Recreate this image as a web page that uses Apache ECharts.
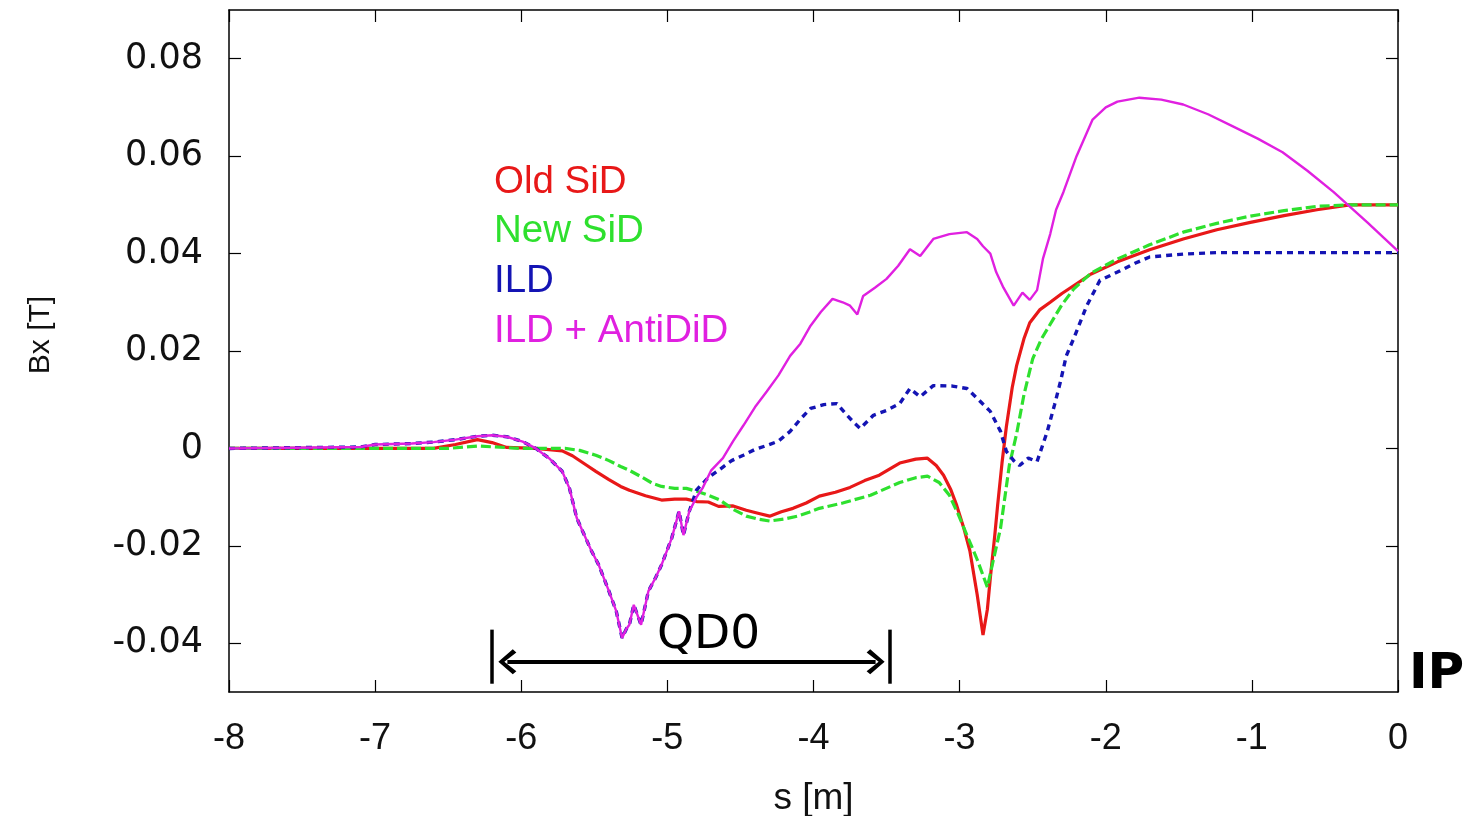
<!DOCTYPE html>
<html>
<head>
<meta charset="utf-8">
<title>Bx along s</title>
<script src="https://cdn.jsdelivr.net/npm/echarts@6/dist/echarts.min.js"></script>
<style>
  html, body { margin: 0; padding: 0; background: #ffffff; }
  #chart { width: 1470px; height: 816px; }
</style>
</head>
<body>
<div id="chart"></div>
<script>
// Tick values of the Bx axis and the s axis range
const bxTicks = [-0.04, -0.02, 0, 0.02, 0.04, 0.06, 0.08];
const sTicks = [-8, -7, -6, -5, -4, -3, -2, -1, 0];

// Old SiD field, [s (m), Bx (T)]
const oldSid = [
  [-8, 0], [-6.6, 0], [-6.45, 0.0008], [-6.3, 0.0018], [-6.2, 0.0012], [-6.1, 0.0002],
  [-5.9, 0], [-5.72, -0.0005], [-5.65, -0.0015], [-5.55, -0.0035], [-5.49, -0.0047],
  [-5.4, -0.0064], [-5.32, -0.0078], [-5.26, -0.0086], [-5.15, -0.0097], [-5.04, -0.0106],
  [-4.95, -0.0104], [-4.87, -0.0104], [-4.8, -0.0109], [-4.72, -0.011], [-4.65, -0.0119],
  [-4.55, -0.0118], [-4.46, -0.0127], [-4.38, -0.0133], [-4.3, -0.0139], [-4.22, -0.013],
  [-4.14, -0.0123], [-4.05, -0.0112], [-3.96, -0.0098], [-3.85, -0.009], [-3.75, -0.008],
  [-3.65, -0.0066], [-3.55, -0.0055], [-3.41, -0.003], [-3.3, -0.0022], [-3.22, -0.002],
  [-3.16, -0.0035], [-3.11, -0.0055], [-3.06, -0.0085], [-3.02, -0.0117], [-2.97, -0.0165],
  [-2.93, -0.021], [-2.88, -0.03], [-2.84, -0.0383], [-2.81, -0.033], [-2.79, -0.0266],
  [-2.76, -0.018], [-2.74, -0.0117], [-2.71, -0.003], [-2.68, 0.0045], [-2.64, 0.0125],
  [-2.61, 0.017], [-2.56, 0.0225], [-2.52, 0.0258], [-2.45, 0.0285], [-2.38, 0.03],
  [-2.3, 0.0318], [-2.22, 0.0334], [-2.1, 0.0358], [-1.92, 0.0383], [-1.7, 0.0408],
  [-1.47, 0.043], [-1.24, 0.0449], [-1.01, 0.0464], [-0.78, 0.0478], [-0.555, 0.049],
  [-0.33, 0.05], [0, 0.05]
];

// New SiD field
const newSid = [
  [-8, 0], [-6.5, 0], [-6.3, 0.0005], [-6.0, 0], [-5.7, 0], [-5.6, -0.0004],
  [-5.49, -0.0014], [-5.4, -0.0025], [-5.32, -0.0037], [-5.26, -0.0045], [-5.18, -0.0058],
  [-5.1, -0.0072], [-5.04, -0.0078], [-4.95, -0.0082], [-4.87, -0.0082], [-4.8, -0.0088],
  [-4.72, -0.0096], [-4.64, -0.0106], [-4.55, -0.0125], [-4.46, -0.0139], [-4.38, -0.0145],
  [-4.3, -0.0149], [-4.2, -0.0145], [-4.11, -0.0139], [-4.03, -0.0131], [-3.96, -0.0123],
  [-3.8, -0.0112], [-3.61, -0.0096], [-3.41, -0.007], [-3.3, -0.006], [-3.22, -0.0057],
  [-3.14, -0.007], [-3.07, -0.0096], [-3.01, -0.0135], [-2.95, -0.0178], [-2.88, -0.0228],
  [-2.81, -0.0285], [-2.77, -0.023], [-2.72, -0.0164], [-2.66, -0.0035], [-2.61, 0.003],
  [-2.56, 0.011], [-2.5, 0.0184], [-2.44, 0.0225], [-2.38, 0.0255], [-2.3, 0.0295],
  [-2.22, 0.0327], [-2.1, 0.036], [-1.92, 0.0389], [-1.7, 0.0418], [-1.47, 0.0444],
  [-1.24, 0.0462], [-1.01, 0.0477], [-0.78, 0.0488], [-0.555, 0.0497], [-0.33, 0.05], [0, 0.05]
];

// ILD and ILD + AntiDiD coincide upstream of s = -4.85 m
const ildUpstream = [
  [-8, 0], [-7.1, 0.0003], [-7.0, 0.0008], [-6.75, 0.001], [-6.6, 0.0013], [-6.45, 0.0018],
  [-6.3, 0.0025], [-6.2, 0.0027], [-6.1, 0.0024], [-5.99, 0.0014], [-5.9, 0], [-5.81, -0.002],
  [-5.72, -0.0047], [-5.67, -0.0082], [-5.62, -0.0143], [-5.58, -0.017], [-5.52, -0.021],
  [-5.47, -0.0239], [-5.4, -0.0293], [-5.35, -0.0334], [-5.31, -0.0389], [-5.28, -0.037],
  [-5.26, -0.0362], [-5.23, -0.0321], [-5.18, -0.0362], [-5.13, -0.0293], [-5.08, -0.0265],
  [-5.04, -0.0239], [-4.97, -0.0184], [-4.92, -0.0129], [-4.89, -0.0178], [-4.85, -0.0129]
];

// ILD field downstream
const ildDownstream = [
  [-4.8, -0.0085], [-4.72, -0.006], [-4.65, -0.0045], [-4.56, -0.0025], [-4.48, -0.0014],
  [-4.4, -0.0002], [-4.32, 0.0006], [-4.24, 0.0015], [-4.16, 0.0035], [-4.09, 0.006],
  [-4.02, 0.0082], [-3.93, 0.009], [-3.84, 0.0092], [-3.77, 0.0068], [-3.72, 0.0052],
  [-3.68, 0.0041], [-3.59, 0.0068], [-3.5, 0.0078], [-3.41, 0.0092], [-3.34, 0.0123],
  [-3.27, 0.0106], [-3.18, 0.0129], [-3.05, 0.0128], [-2.95, 0.0123], [-2.87, 0.01],
  [-2.79, 0.0076], [-2.72, 0.0035], [-2.68, -0.0006], [-2.63, -0.0025], [-2.59, -0.0035],
  [-2.53, -0.002], [-2.47, -0.0027], [-2.4, 0.0035], [-2.35, 0.009], [-2.31, 0.0137],
  [-2.27, 0.019], [-2.22, 0.0225], [-2.13, 0.0293], [-2.04, 0.0345], [-1.92, 0.0362],
  [-1.8, 0.038], [-1.7, 0.0393], [-1.47, 0.0399], [-1.24, 0.0402], [-1.0, 0.0402], [0, 0.0402]
];

// ILD + AntiDiD field downstream
const antiDidDownstream = [
  [-4.8, -0.01], [-4.76, -0.0082], [-4.7, -0.0045], [-4.62, -0.002], [-4.55, 0.0015],
  [-4.48, 0.0047], [-4.4, 0.0085], [-4.32, 0.0117], [-4.24, 0.015], [-4.16, 0.019],
  [-4.09, 0.0215], [-4.02, 0.0252], [-3.95, 0.028], [-3.87, 0.0307], [-3.8, 0.03],
  [-3.75, 0.0293], [-3.7, 0.0275], [-3.66, 0.0313], [-3.58, 0.033], [-3.5, 0.0348],
  [-3.42, 0.0375], [-3.34, 0.0409], [-3.27, 0.0395], [-3.18, 0.043], [-3.07, 0.044],
  [-2.95, 0.0444], [-2.88, 0.043], [-2.84, 0.0415], [-2.79, 0.04], [-2.75, 0.0362],
  [-2.7, 0.033], [-2.63, 0.0293], [-2.57, 0.032], [-2.52, 0.0305], [-2.47, 0.0325],
  [-2.43, 0.0389], [-2.38, 0.044], [-2.34, 0.049], [-2.29, 0.0526], [-2.2, 0.06],
  [-2.09, 0.0675], [-2.0, 0.07], [-1.92, 0.0712], [-1.77, 0.072], [-1.62, 0.0716],
  [-1.47, 0.0706], [-1.3, 0.0686], [-1.13, 0.0661], [-0.96, 0.0636], [-0.79, 0.0608],
  [-0.62, 0.057], [-0.44, 0.0526], [-0.21, 0.0464], [0, 0.0405]
];

const ild = ildUpstream.concat(ildDownstream);
const ildAntiDid = ildUpstream.concat(antiDidDownstream);

// QD0 magnet extent along s (m)
const qd0Start = -6.2;
const qd0End = -3.48;

const colors = {
  oldSid: '#e81818',
  newSid: '#2ee02e',
  ild: '#1414b4',
  anti: '#e020e0'
};

const chart = echarts.init(document.getElementById('chart'), null, { renderer: 'canvas' });

const tickStyle = { show: true, inside: true, length: 12, lineStyle: { color: '#000', width: 1.2 } };
const axisLineStyle = { show: true, onZero: false, lineStyle: { color: '#000', width: 1.5 } };

// Open chevron used for the arrow heads
const chevron = 'path://M0,0 L12,12 L9,15 L0,5 L-9,15 L-12,12 Z';

const option = {
  backgroundColor: '#ffffff',
  animation: false,
  grid: { left: 229, right: 72, top: 10, bottom: 124, outerBoundsMode: 'none', containLabel: false },
  legend: {
    orient: 'vertical',
    left: 484,
    top: 157,
    icon: 'none',
    itemWidth: 0,
    itemHeight: 40,
    itemGap: 10.3,
    selectedMode: false,
    textStyle: { fontSize: 38.5, fontFamily: 'Liberation Sans, Arial, sans-serif' },
    data: [
      { name: 'Old SiD', textStyle: { color: colors.oldSid } },
      { name: 'New SiD', textStyle: { color: colors.newSid } },
      { name: 'ILD', textStyle: { color: colors.ild } },
      { name: 'ILD + AntiDiD', textStyle: { color: colors.anti } }
    ]
  },
  xAxis: [
    {
      type: 'value', position: 'bottom', min: sTicks[0], max: sTicks[sTicks.length - 1], interval: 1,
      name: 's [m]', nameLocation: 'middle', nameGap: 88,
      nameTextStyle: { fontSize: 37, color: '#111', fontFamily: 'Liberation Sans, Arial, sans-serif' },
      axisLine: axisLineStyle, axisTick: tickStyle, splitLine: { show: false },
      axisLabel: { margin: 29, fontSize: 36, color: '#111', fontFamily: 'Liberation Sans, Arial, sans-serif' }
    },
    {
      type: 'value', position: 'top', min: sTicks[0], max: sTicks[sTicks.length - 1], interval: 1,
      axisLine: axisLineStyle, axisTick: tickStyle, splitLine: { show: false },
      axisLabel: { show: false }
    }
  ],
  yAxis: [
    {
      type: 'value', position: 'left', min: -0.05, max: 0.09,
      name: 'Bx [T]', nameLocation: 'middle', nameGap: 173, nameRotate: 90,
      nameTextStyle: {
        fontSize: 30, color: '#111', fontFamily: 'Liberation Sans, Arial, sans-serif',
        padding: [0, 0, 0, 32]
      },
      axisLine: axisLineStyle,
      axisTick: Object.assign({}, tickStyle, { customValues: bxTicks }),
      splitLine: { show: false },
      axisLabel: {
        customValues: bxTicks, margin: 26, fontSize: 35, color: '#111',
        fontFamily: 'DejaVu Sans, sans-serif',
        formatter: v => (Math.abs(v) < 1e-9 ? '0' : v.toFixed(2))
      }
    },
    {
      type: 'value', position: 'right', min: -0.05, max: 0.09,
      axisLine: axisLineStyle,
      axisTick: Object.assign({}, tickStyle, { customValues: bxTicks }),
      splitLine: { show: false },
      axisLabel: { show: false }
    }
  ],
  series: [
    {
      name: 'Old SiD', type: 'line', data: oldSid, showSymbol: false, symbol: 'none',
      itemStyle: { color: colors.oldSid },
      lineStyle: { color: colors.oldSid, width: 3.2, type: 'solid' },
      z: 3
    },
    {
      name: 'New SiD', type: 'line', data: newSid, showSymbol: false, symbol: 'none',
      itemStyle: { color: colors.newSid },
      lineStyle: { color: colors.newSid, width: 3.2, type: [10, 4] },
      z: 4
    },
    {
      name: 'ILD', type: 'line', data: ild, showSymbol: false, symbol: 'none',
      itemStyle: { color: colors.ild },
      lineStyle: { color: colors.ild, width: 3.4, type: [6, 5] },
      z: 5
    },
    {
      name: 'ILD + AntiDiD', type: 'line', data: ildAntiDid, showSymbol: false, symbol: 'none',
      itemStyle: { color: colors.anti },
      lineStyle: { color: colors.anti, width: 2.4, type: 'solid' },
      z: 6,
      markLine: {
        silent: true,
        animation: false,
        z: 10,
        lineStyle: { color: '#000', type: 'solid' },
        data: [
          [
            { coord: [qd0Start, -0.0372], symbol: 'none', lineStyle: { width: 3.5, color: '#000' } },
            { coord: [qd0Start, -0.0483], symbol: 'none' }
          ],
          [
            { coord: [qd0End, -0.0372], symbol: 'none', lineStyle: { width: 3.5, color: '#000' } },
            { coord: [qd0End, -0.0483], symbol: 'none' }
          ],
          [
            {
              coord: [qd0Start + 0.105, -0.0438], symbol: chevron, symbolSize: [25, 18],
              lineStyle: { width: 4, color: '#000' },
              label: {
                show: true, position: 'middle', formatter: 'QD0', distance: 3,
                padding: [0, 0, 0, 34],
                fontSize: 47, color: '#000', fontFamily: 'DejaVu Sans, sans-serif'
              }
            },
            { coord: [qd0End - 0.095, -0.0438], symbol: chevron, symbolSize: [25, 18] }
          ]
        ]
      }
    }
  ],
  graphic: [
    {
      type: 'text', left: 1409, top: 650,
      style: { text: 'IP', fontSize: 50, fontWeight: 'bold', fill: '#000', fontFamily: 'DejaVu Sans, sans-serif' }
    }
  ]
};

chart.setOption(option);
</script>
</body>
</html>
